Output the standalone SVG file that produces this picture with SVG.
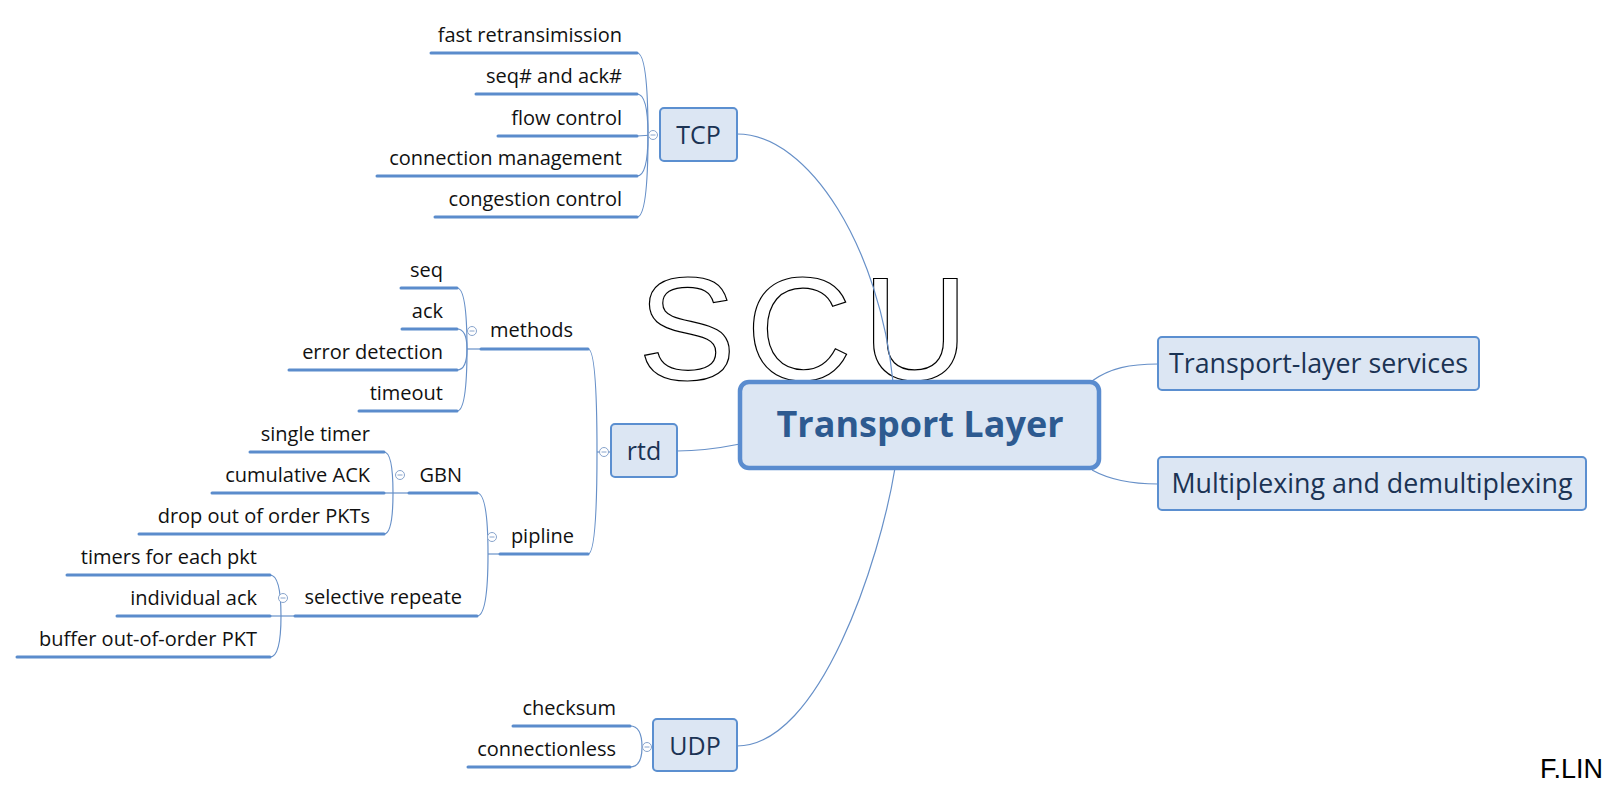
<svg xmlns="http://www.w3.org/2000/svg" width="1614" height="789" viewBox="0 0 1614 789">
<style>
.bg{fill:#ffffff}
.wm{font-family:"Liberation Sans",Arial,sans-serif;font-size:147px;fill:#ffffff;stroke:#000000;stroke-width:1.2;letter-spacing:10px}
.conn{fill:none;stroke:#6790c8;stroke-width:1.2}
.ul{stroke:#5b8ccc;stroke-width:3;stroke-linecap:round}
.lbl{font-family:"Open Sans","Noto Sans",sans-serif;font-size:20px;fill:#111111;text-anchor:end}
.box{fill:#dce6f3;stroke:#5b8fd0;stroke-width:2}
.boxt{font-family:"Open Sans","Noto Sans",sans-serif;font-size:25px;fill:#1b3354;text-anchor:middle}
.boxw{font-size:26.8px}
.main{fill:#dce6f3;stroke:#5a8ccf;stroke-width:4.5}
.maint{font-family:"Open Sans","Noto Sans",sans-serif;font-size:36px;font-weight:bold;fill:#2d5a90;text-anchor:middle}
.col{fill:#ffffff;stroke:#88a4cc;stroke-width:1}
.minus{stroke:#88a4cc;stroke-width:1}
.sig{font-family:"Liberation Sans",Arial,sans-serif;font-size:27px;fill:#000000}
</style>
<rect class="bg" x="0" y="0" width="1614" height="789"/>
<text class="wm" x="638" y="380">SCU</text>

<g id="connectors">
  <path class="conn" d="M737,134 C810,134 880,250 893,382"/>
  <path class="conn" d="M677,451 C700,451 720,448 740,444"/>
  <path class="conn" d="M737,746 C820,746 880,560 895,468"/>
  <path class="conn" d="M1092,381 C1110,368 1130,364 1158,364"/>
  <path class="conn" d="M1092,470 C1110,480 1130,484 1158,484"/>
  <path class="conn" d="M637,53 Q648,53 648,135"/>
  <path class="conn" d="M637,94 Q648,94 648,135"/>
  <path class="conn" d="M637,136 L653,135"/>
  <path class="conn" d="M637,176 Q648,176 648,135"/>
  <path class="conn" d="M637,217 Q648,217 648,135"/>
  <path class="conn" d="M588,349 Q597,349 597,452"/>
  <path class="conn" d="M588,554 Q597,554 597,452"/>
  <path class="conn" d="M597,452 L611,452"/>
  <path class="conn" d="M457,288 Q467,288 467,349"/>
  <path class="conn" d="M457,329 Q467,329 467,349"/>
  <path class="conn" d="M457,370 Q467,370 467,349"/>
  <path class="conn" d="M457,411 Q467,411 467,349"/>
  <path class="conn" d="M467,349 L481,349"/>
  <path class="conn" d="M477,493 Q488,493 488,554"/>
  <path class="conn" d="M477,616 Q488,616 488,554"/>
  <path class="conn" d="M488,554 L500,554"/>
  <path class="conn" d="M384,452 Q393,452 393,493"/>
  <path class="conn" d="M384,534 Q393,534 393,493"/>
  <path class="conn" d="M384,493 L409,493"/>
  <path class="conn" d="M270,575 Q281,575 281,616"/>
  <path class="conn" d="M270,657 Q281,657 281,616"/>
  <path class="conn" d="M270,616 L295,616"/>
  <path class="conn" d="M630,726 Q642,726 642,747"/>
  <path class="conn" d="M630,767 Q642,767 642,747"/>
  <path class="conn" d="M642,747 L653,747"/>
</g>

<g id="n-main">
  <rect class="main" x="740" y="382" width="359" height="86" rx="9"/>
  <text class="maint" x="920" y="437">Transport Layer</text>
</g>

<g id="n-tcp">
  <rect class="box" x="660" y="108" width="77" height="53" rx="4"/>
  <text class="boxt" x="698.5" y="144">TCP</text>
  <circle class="col" cx="653" cy="135" r="4.5"/><line class="minus" x1="650.5" y1="135" x2="655.5" y2="135"/>
</g>
<g id="n-rtd">
  <rect class="box" x="611" y="424" width="66" height="53" rx="4"/>
  <text class="boxt" x="644" y="460">rtd</text>
  <circle class="col" cx="604" cy="452" r="4.5"/><line class="minus" x1="601.5" y1="452" x2="606.5" y2="452"/>
</g>
<g id="n-udp">
  <rect class="box" x="653" y="719" width="84" height="52" rx="4"/>
  <text class="boxt" x="695" y="755">UDP</text>
  <circle class="col" cx="647" cy="747" r="4.5"/><line class="minus" x1="644.5" y1="747" x2="649.5" y2="747"/>
</g>
<g id="n-tls">
  <rect class="box" x="1158" y="337" width="321" height="53" rx="4"/>
  <text class="boxt boxw" x="1318.5" y="373">Transport-layer services</text>
</g>
<g id="n-mux">
  <rect class="box" x="1158" y="457" width="428" height="53" rx="4"/>
  <text class="boxt boxw" x="1372" y="493">Multiplexing and demultiplexing</text>
</g>

<g id="n-fast"><line class="ul" x1="431" y1="53" x2="637" y2="53"/><text class="lbl" x="622" y="42">fast retransimission</text></g>
<g id="n-seqack"><line class="ul" x1="476" y1="94" x2="637" y2="94"/><text class="lbl" x="622" y="83">seq# and ack#</text></g>
<g id="n-flow"><line class="ul" x1="498" y1="136" x2="637" y2="136"/><text class="lbl" x="622" y="125">flow control</text></g>
<g id="n-connmgmt"><line class="ul" x1="377" y1="176" x2="637" y2="176"/><text class="lbl" x="622" y="165">connection management</text></g>
<g id="n-cong"><line class="ul" x1="435" y1="217" x2="637" y2="217"/><text class="lbl" x="622" y="206">congestion control</text></g>

<g id="n-methods"><line class="ul" x1="481" y1="349" x2="588" y2="349"/><text class="lbl" x="573" y="337">methods</text>
  <circle class="col" cx="472" cy="331" r="4.5"/><line class="minus" x1="469.5" y1="331" x2="474.5" y2="331"/></g>
<g id="n-seq"><line class="ul" x1="401" y1="288" x2="457" y2="288"/><text class="lbl" x="443" y="277">seq</text></g>
<g id="n-ack"><line class="ul" x1="402" y1="329" x2="457" y2="329"/><text class="lbl" x="443" y="318">ack</text></g>
<g id="n-err"><line class="ul" x1="289" y1="370" x2="457" y2="370"/><text class="lbl" x="443" y="359">error detection</text></g>
<g id="n-timeout"><line class="ul" x1="359" y1="411" x2="457" y2="411"/><text class="lbl" x="443" y="400">timeout</text></g>

<g id="n-pipline"><line class="ul" x1="500" y1="554" x2="588" y2="554"/><text class="lbl" x="574" y="543">pipline</text>
  <circle class="col" cx="492" cy="537" r="4.5"/><line class="minus" x1="489.5" y1="537" x2="494.5" y2="537"/></g>
<g id="n-gbn"><line class="ul" x1="409" y1="493" x2="477" y2="493"/><text class="lbl" x="462" y="482">GBN</text>
  <circle class="col" cx="400" cy="475" r="4.5"/><line class="minus" x1="397.5" y1="475" x2="402.5" y2="475"/></g>
<g id="n-single"><line class="ul" x1="250" y1="452" x2="384" y2="452"/><text class="lbl" x="370" y="441">single timer</text></g>
<g id="n-cumack"><line class="ul" x1="212" y1="493" x2="384" y2="493"/><text class="lbl" x="370" y="482">cumulative ACK</text></g>
<g id="n-drop"><line class="ul" x1="139" y1="534" x2="384" y2="534"/><text class="lbl" x="370" y="523">drop out of order PKTs</text></g>

<g id="n-sr"><line class="ul" x1="295" y1="616" x2="477" y2="616"/><text class="lbl" x="462" y="604">selective repeate</text>
  <circle class="col" cx="283" cy="598" r="4.5"/><line class="minus" x1="280.5" y1="598" x2="285.5" y2="598"/></g>
<g id="n-timers"><line class="ul" x1="67" y1="575" x2="270" y2="575"/><text class="lbl" x="257" y="564">timers for each pkt</text></g>
<g id="n-indack"><line class="ul" x1="117" y1="616" x2="270" y2="616"/><text class="lbl" x="257" y="605">individual ack</text></g>
<g id="n-buffer"><line class="ul" x1="17" y1="657" x2="270" y2="657"/><text class="lbl" x="257" y="646">buffer out-of-order PKT</text></g>

<g id="n-checksum"><line class="ul" x1="513" y1="726" x2="630" y2="726"/><text class="lbl" x="616" y="715">checksum</text></g>
<g id="n-connless"><line class="ul" x1="468" y1="767" x2="630" y2="767"/><text class="lbl" x="616" y="756">connectionless</text></g>

<text class="sig" x="1540" y="778">F.LIN</text>
</svg>
